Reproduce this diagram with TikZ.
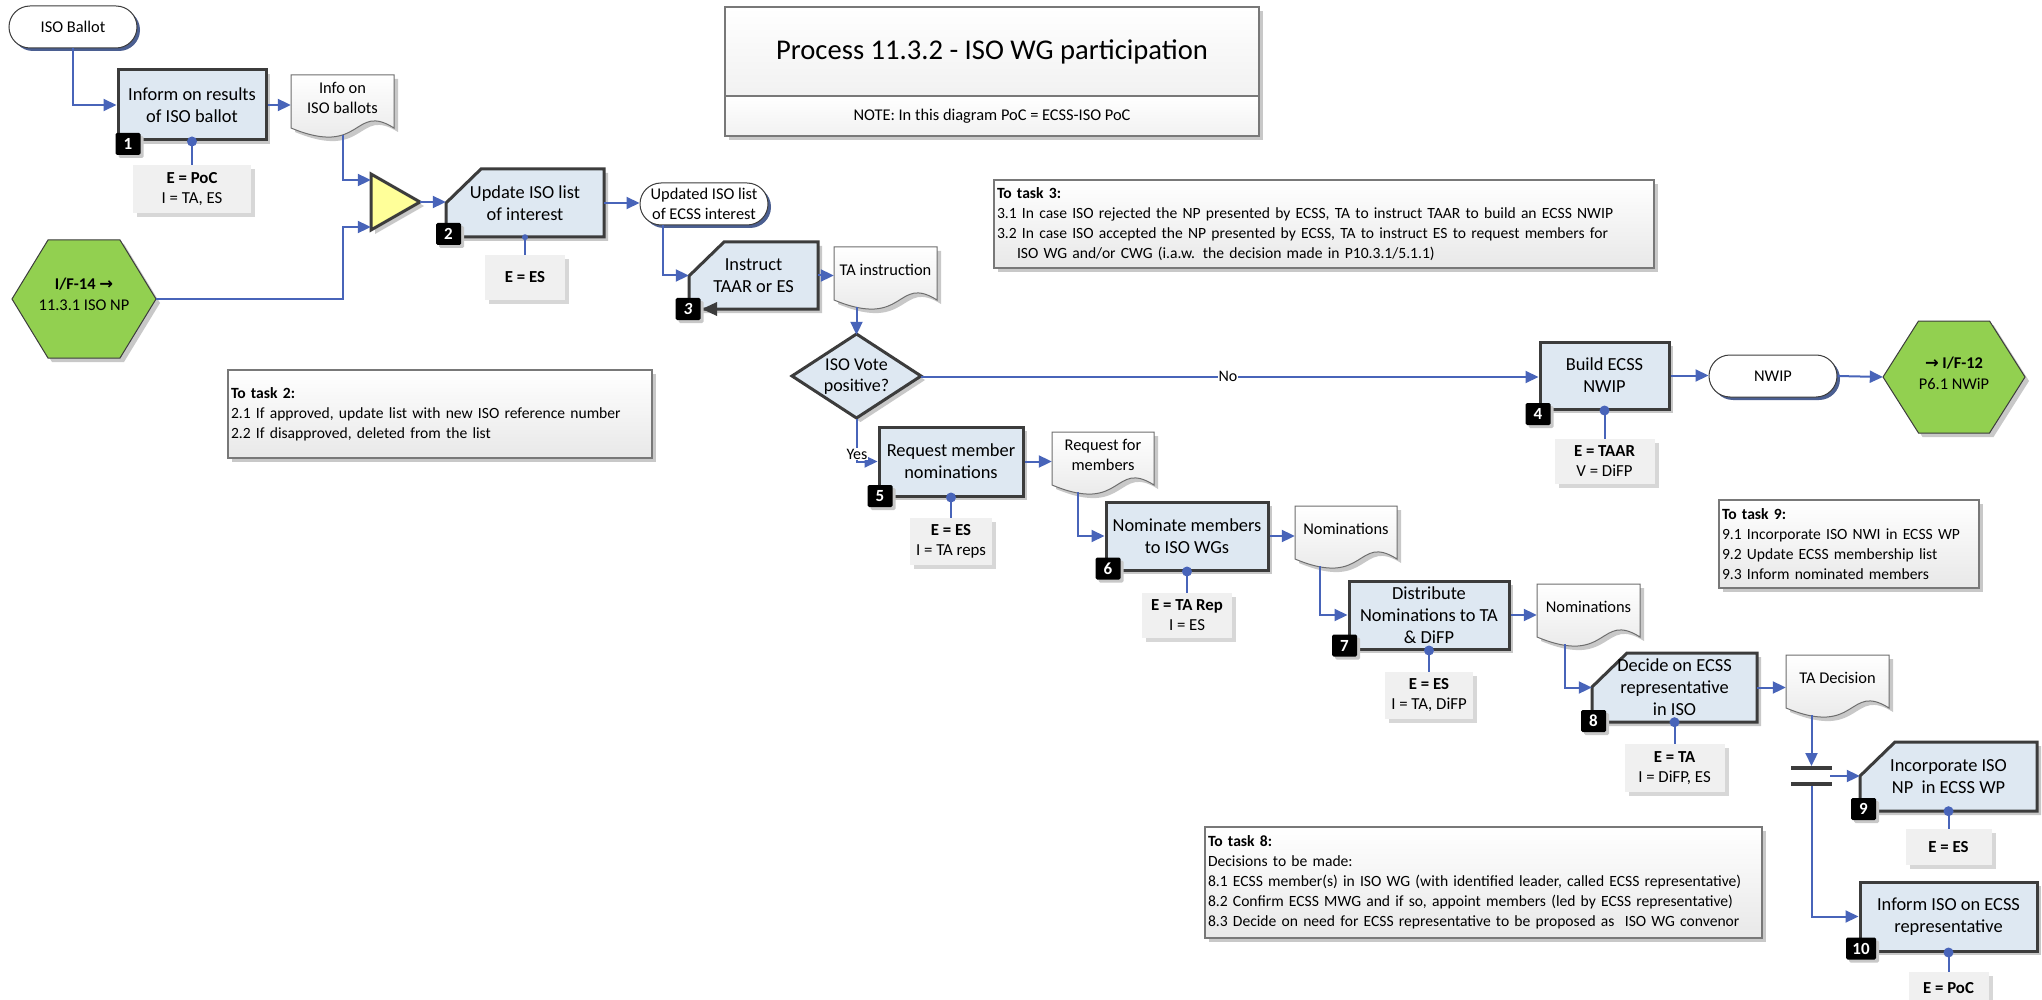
\documentclass[tikz,border=0pt]{standalone}
\usepackage{fontspec}
\setmainfont{Carlito}
\newfontfamily\arrowfont{DejaVu Sans}
\usetikzlibrary{shapes.misc,arrows.meta,shadows,calc}
\hyphenpenalty=10000
\definecolor{boxblue}{RGB}{222,232,242}
\definecolor{edge}{RGB}{60,60,60}
\definecolor{connblue}{RGB}{72,100,185}
\definecolor{hexgreen}{RGB}{146,208,80}
\definecolor{triyellow}{RGB}{255,255,153}
\definecolor{resgrey}{RGB}{240,240,240}
\definecolor{shadowgrey}{RGB}{200,200,200}
\definecolor{resshadow}{RGB}{215,215,215}
\definecolor{termshadow}{RGB}{75,95,145}
\definecolor{docedge}{RGB}{110,110,110}
\definecolor{docgrey}{RGB}{228,228,228}
\definecolor{noteedge}{RGB}{120,120,120}
\definecolor{notegrey}{RGB}{232,232,232}

\tikzset{
  shd/.style={drop shadow={shadow xshift=4pt,shadow yshift=-4pt,fill=shadowgrey,opacity=1}},
  tshd/.style={drop shadow={shadow xshift=3pt,shadow yshift=-3pt,fill=termshadow,opacity=1}},
  taskbox/.style={rectangle,draw=edge,line width=3pt,fill=boxblue,shd,align=center,inner sep=0pt,font=\fontsize{18.4}{22}\selectfont},
  cutshape/.style={draw=edge,line width=3pt,fill=boxblue,shd},
  boxtext/.style={rectangle,draw=none,align=center,inner sep=0pt,font=\fontsize{18.4}{22}\selectfont},
  badge/.style={rectangle,fill=black,text=white,rounded corners=1.5pt,inner sep=0pt,minimum width=25pt,minimum height=22pt,font=\bfseries\fontsize{17}{17}\selectfont,drop shadow={shadow xshift=3pt,shadow yshift=-3pt,fill=shadowgrey,opacity=1}},
  res/.style={rectangle,fill=resgrey,inner sep=0pt,align=center,font=\fontsize{16.8}{20}\selectfont,drop shadow={shadow xshift=4pt,shadow yshift=-4pt,fill=resshadow,opacity=1}},
  term/.style={rounded rectangle,draw=edge,line width=1pt,fill=white,tshd,inner sep=0pt,minimum width=128pt,minimum height=42pt,align=center,font=\fontsize{16.4}{20}\selectfont},
  docshape/.style={draw=docedge,line width=1pt,top color=white,bottom color=docgrey,shd},
  anchorbox/.style={rectangle,draw=none,fill=none,inner sep=0pt},
  doctext/.style={align=center,inner sep=0pt,font=\fontsize{16.4}{20}\selectfont},
  note/.style={rectangle,draw=noteedge,line width=1.2pt,top color=white,bottom color=notegrey,shd,align=left,inner sep=3pt,font=\fontsize{15.6}{20}\selectfont},
  titlebox/.style={rectangle,draw=noteedge,line width=1.2pt,top color=white,bottom color=notegrey!60,shd,align=center,inner sep=0pt},
  hexshape/.style={draw=edge,line width=1pt,fill=hexgreen,shd},
  hextext/.style={align=center,inner sep=0pt,font=\fontsize{16.4}{21}\selectfont},
  trishape/.style={draw=edge,line width=3pt,fill=triyellow,shd,line join=miter},
  diashape/.style={draw=edge,line width=3pt,fill=boxblue,shd},
  conn/.style={draw=connblue,line width=2pt,-{Triangle[length=13pt,width=12pt]}},
  stub/.style={draw=connblue,line width=2pt},
  lbl/.style={fill=white,inner sep=1pt,font=\fontsize{16}{18}\selectfont},
  syncbar/.style={rectangle,fill=edge,inner sep=0pt,minimum width=41pt,minimum height=3.5pt},
}

\newcommand\CutBox[6]{%
  \path[cutshape] (#2,{#3+34}) -- ({#2+35},#3) -- (#4,#3) -- (#4,#5) -- (#2,#5) -- cycle;
  \pgfmathsetmacro\cbw{#4-#2}\pgfmathsetmacro\cbh{#5-#3}%
  \pgfmathsetmacro\cbx{(#2+#4)/2}\pgfmathsetmacro\cby{(#3+#5)/2}%
  \node[boxtext,minimum width=\cbw pt,minimum height=\cbh pt] (#1) at (\cbx,\cby) {#6};}

\newcommand\DocShape[5]{%
  \pgfmathsetmacro\dw{#4-#2}%
  \pgfmathsetmacro\dxc{(#2+#4)/2}%
  \path[docshape] (#2,#3) -- (#4,#3) -- (#4,{#3+53}) .. controls ({#2+0.6*\dw},{#3+27}) and ({#2+0.7*\dw},{#3+83}) .. (#2,{#3+53}) -- cycle;
  \node[anchorbox,minimum width=\dw pt,minimum height=60pt] (#1) at (\dxc,{#3+30}) {};
  \node[doctext] (#1t) at (\dxc,{#3+23}) {#5};}

\begin{document}
\begin{tikzpicture}[x=1pt,y=-1pt]
\useasboundingbox (0,0) rectangle (2042,1000);
\fill[white] (0,0) rectangle (2042,1000);

% title
\node[titlebox,minimum width=534pt,minimum height=89pt,font=\fontsize{28.6}{32}\selectfont] (title) at (992,51.5) {Process 11.3.2 - ISO WG participation};
\node[titlebox,minimum width=534pt,minimum height=40pt,font=\fontsize{16.4}{20}\selectfont] (titlenote) at (992,116) {NOTE: In this diagram PoC = ECSS-ISO PoC};

% notes
\node[note,text width=418pt,minimum height=88pt] (n2) at (440,414) {\textbf{To task 2:}\\2.1 If approved, update list with new ISO reference number\\2.2 If disapproved, deleted from the list};
\node[note,text width=654pt,minimum height=88pt] (n3) at (1324,224) {\textbf{To task 3:}\\3.1 In case ISO rejected the NP presented by ECSS, TA to instruct TAAR to build an ECSS NWIP\\3.2 In case ISO accepted the NP presented by ECSS, TA to instruct ES to request members for\\\hspace*{20pt}ISO WG and/or CWG (i.a.w. the decision made in P10.3.1/5.1.1)};
\node[note,text width=254pt,minimum height=88pt] (n9) at (1849,544) {\textbf{To task 9:}\\9.1 Incorporate ISO NWI in ECSS WP\\9.2 Update ECSS membership list\\9.3 Inform nominated members};
\node[note,text width=551pt,minimum height=111pt] (n8) at (1483.5,882.5) {\textbf{To task 8:}\\Decisions to be made:\\8.1 ECSS member(s) in ISO WG (with identified leader, called ECSS representative)\\8.2 Confirm ECSS MWG and if so, appoint members (led by ECSS representative)\\8.3 Decide on need for ECSS representative to be proposed as\ \ ISO WG convenor};

% terminators
\node[term] (t1) at (73,27) {ISO Ballot};
\node[term] (t2) at (704,204) {Updated ISO list\\of ECSS interest};
\node[term] (t3) at (1773,376) {NWIP};

% hexagons
\path[hexshape] (12,299) -- (48,240) -- (120,240) -- (156,299) -- (120,358) -- (48,358) -- cycle;
\node[anchorbox,minimum width=144pt,minimum height=118pt] (hex1) at (84,299) {};
\node[hextext] (hex1t) at (84,294) {\textbf{I/F-14 {\arrowfont →}}\\11.3.1 ISO NP};
\path[hexshape] (1883,377) -- (1918.5,321) -- (1989.5,321) -- (2025,377) -- (1989.5,433) -- (1918.5,433) -- cycle;
\node[anchorbox,minimum width=142pt,minimum height=112pt] (hex2) at (1954,377) {};
\node[hextext] (hex2t) at (1954,373) {\textbf{{\arrowfont →} I/F-12}\\P6.1 NWiP};

% merge triangle
\path[trishape] (371,174) -- (420,202) -- (371,230) -- cycle;
\node[anchorbox,minimum width=49pt,minimum height=56pt] (tri) at (395.5,202) {};

% decision
\path[diashape] (792,376) -- (856.5,334) -- (921,376) -- (856.5,418) -- cycle;
\node[anchorbox,minimum width=129pt,minimum height=84pt,align=center,font=\fontsize{18}{21}\selectfont] (dia) at (856.5,377) {ISO Vote\\positive?};

% documents
\DocShape{d1}{291}{75}{394}{Info on\\ISO ballots}
\DocShape{d2}{834}{247}{937}{TA instruction}
\DocShape{d3}{1052}{432}{1154}{Request for\\members}
\DocShape{d4}{1295}{506}{1397}{Nominations}
\DocShape{d5}{1537}{584}{1640}{Nominations}
\DocShape{d6}{1786}{655}{1889}{TA Decision}

% task boxes
\node[taskbox,minimum width=148pt,minimum height=70pt] (b1) at (192,105) {Inform on results\\of ISO ballot};
\CutBox{b2}{446}{169}{604}{237}{Update ISO list\\of interest}
\CutBox{b3}{689}{242}{818}{309}{Instruct\\TAAR or ES}
\node[taskbox,minimum width=129pt,minimum height=67pt] (b4) at (1604.5,375.5) {Build ECSS\\NWIP};
\node[taskbox,minimum width=144pt,minimum height=69pt] (b5) at (951,461.5) {Request member\\nominations};
\node[taskbox,minimum width=162pt,minimum height=68pt] (b6) at (1187,536) {Nominate members\\to ISO WGs};
\node[taskbox,minimum width=160pt,minimum height=68pt] (b7) at (1429,615) {Distribute\\Nominations to TA\\\& DiFP};
\CutBox{b8}{1592}{653}{1757}{722}{Decide on ECSS\\representative\\in ISO}
\CutBox{b9}{1860}{742}{2037}{811}{Incorporate ISO\\NP\ \ in ECSS WP}
\node[taskbox,minimum width=177pt,minimum height=69pt] (b10) at (1948.5,916.5) {Inform ISO on ECSS\\representative};

% resources
\node[res,minimum width=118pt,minimum height=48pt] (r1) at (192,189) {\textbf{E = PoC}\\I = TA, ES};
\node[res,minimum width=80pt,minimum height=45pt] (r2) at (525,277.5) {\textbf{E = ES}};
\node[res,minimum width=100pt,minimum height=45pt] (r4) at (1604.5,461.5) {\textbf{E = TAAR}\\V = DiFP};
\node[res,minimum width=82pt,minimum height=47pt] (r5) at (951,541.5) {\textbf{E = ES}\\I = TA reps};
\node[res,minimum width=90pt,minimum height=45pt] (r6) at (1187,615.5) {\textbf{E = TA Rep}\\I = ES};
\node[res,minimum width=88pt,minimum height=47pt] (r7) at (1429,695.5) {\textbf{E = ES}\\I = TA, DiFP};
\node[res,minimum width=100pt,minimum height=48pt] (r8) at (1674.5,768) {\textbf{E = TA}\\I = DiFP, ES};
\node[res,minimum width=86pt,minimum height=36pt] (r9) at (1948.5,847) {\textbf{E = ES}};
\node[res,minimum width=80pt,minimum height=32pt] (r10) at (1948.5,988) {\textbf{E = PoC}};

% sync bars
\node[syncbar] (bar1) at (1811.5,768) {};
\node[syncbar] (bar2) at (1811.5,784) {};
\coordinate (fork) at (1830,776);

% connectors
\draw[conn] (t1.south) |- (b1.west);
\draw[conn] (b1.east) -- (b1.east -| d1.west);
\draw[conn] (d1.south) |- ([yshift=22pt]tri.west);
\draw[conn] (hex1.east) -| ([xshift=-28pt,yshift=-25pt]tri.west) -- ([yshift=-25pt]tri.west);
\draw[conn] (tri.east) -- (tri.east -| b2.west);
\draw[conn] (b2.east) -- (b2.east -| t2.west);
\draw[conn] ([xshift=-41pt]t2.south) |- (b3.west);
\draw[conn] (b3.east) -- (b3.east -| d2.west);
\draw[conn] (dia.north |- d2.south) -- (dia.north);
\draw[conn] (dia.east) -- (dia.east -| b4.west);
\node[lbl] (nolbl) at (1228,376) {No};
\draw[conn] (dia.south) |- (b5.west);
\node[lbl] (yeslbl) at (857,454) {Yes};
\draw[conn] (b4.east) -- (b4.east -| t3.west);
\draw[conn] (t3.east) -- (hex2.west);
\draw[conn] (b5.east) -- (b5.east -| d3.west);
\draw[conn] ([xshift=-25pt]d3.south) |- (b6.west);
\draw[conn] (b6.east) -- (b6.east -| d4.west);
\draw[conn] ([xshift=-26pt]d4.south) |- (b7.west);
\draw[conn] (b7.east) -- (b7.east -| d5.west);
\draw[conn] ([xshift=-23.5pt]d5.south) |- (b8.west);
\draw[conn] (b8.east) -- (b8.east -| d6.west);
\draw[conn] ([xshift=-26pt]d6.south) -- (bar1.north);
\draw[conn] (fork) -- (fork -| b9.west);
\draw[conn] (bar2.south) |- (b10.west);

% resource stubs
\foreach \b/\r in {b1/r1,b4/r4,b5/r5,b6/r6,b7/r7,b8/r8,b9/r9,b10/r10}{
  \draw[stub] (\b.south) -- (\r.north);
  \fill[connblue] (\b.south) circle (5pt);
}
\draw[stub] (b2.south) -- (r2.north);
\fill[connblue] (b2.south) circle (3pt);

% loop marker on task 3
\fill[edge] (702,309) -- (717,302) -- (717,316) -- cycle;

% badges
\node[badge] (k1) at (128,144) {1};
\node[badge] (k2) at (448.5,234) {2};
\node[badge] (k3) at (688,309) {\textit{3}};
\node[badge] (k4) at (1538,414) {4};
\node[badge] (k5) at (880,496) {5};
\node[badge] (k6) at (1108,568.5) {6};
\node[badge] (k7) at (1344.5,645.5) {7};
\node[badge] (k8) at (1593.5,721) {8};
\node[badge] (k9) at (1863.5,809) {9};
\node[badge,minimum width=30pt] (k10) at (1861,948.5) {10};
\end{tikzpicture}
\end{document}
